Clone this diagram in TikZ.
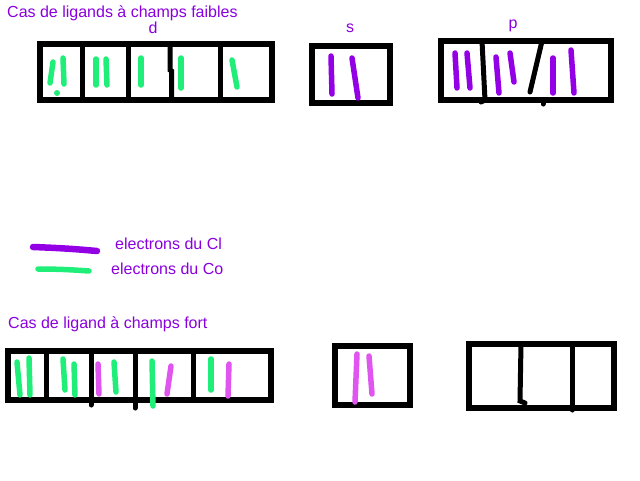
\documentclass[tikz,border=0pt]{standalone}
\usepackage{fontspec}
\setmainfont{Liberation Sans}
\definecolor{vio}{HTML}{9400E6}
\definecolor{vtext}{HTML}{8A00DD}
\definecolor{grn}{HTML}{1FEE78}
\definecolor{pnk}{HTML}{E055F0}
\tikzset{
  box/.style={draw=black, line width=6pt, line join=miter},
  wall/.style={draw=black, line width=5pt, line cap=round},
  ecl/.style={draw=vio, line width=5.5pt, line cap=round},
  eco/.style={draw=grn, line width=5.5pt, line cap=round},
  epk/.style={draw=pnk, line width=5.5pt, line cap=round},
  lbl/.style={text=vtext, font=\fontsize{16}{18}\selectfont, inner sep=0pt},
}
\begin{document}
\begin{tikzpicture}[x=1pt,y=-1pt]
\useasboundingbox (0,0) rectangle (640,480);
% titles
\node[lbl, anchor=base west] (t1) at (7,17) {Cas de ligands à champs faibles};
\node[lbl, anchor=base] (ld) at (153,33) {d};
\node[lbl, anchor=base] (ls) at (350,32) {s};
\node[lbl, anchor=base] (lp) at (513,28) {p};
% top d box
\draw[box] (40,44) rectangle (272,100);
\draw[wall] (82,44) -- (82,100);
\draw[wall] (128,44) -- (128,100);
\draw[wall] (170,44) -- (170,70) -- (171.5,71) -- (171.5,100);
\draw[wall] (220,44) -- (220,100);
\draw[eco] (53,62) -- (50,83);
\draw[eco] (63,58) -- (64,84);
\fill[grn] (57,93) circle (3pt);
\draw[eco] (96,59) -- (96,85);
\draw[eco] (106,59) -- (107,85);
\draw[eco] (141,58) -- (141,85);
\draw[eco] (181,58) -- (181,88);
\draw[eco] (232,60) -- (237,87);
% top s box
\draw[box] (312,46) rectangle (390,103);
\draw[ecl] (331,56) -- (332,94);
\draw[ecl] (352,58) -- (358,98);
% top p box
\draw[box] (441,41) rectangle (611,100);
\draw[wall] (482,41) -- (485,100);
\draw[wall] (485,100) -- (481,102);
\draw[wall] (542,41) -- (530,92);
\draw[wall] (543,100) -- (543,104);
\draw[ecl] (455,53) -- (457,88);
\draw[ecl] (467,53) -- (470,88);
\draw[ecl] (496,57) -- (499,93);
\draw[ecl] (510,53) -- (514,82);
\draw[ecl] (553,58) -- (553,93);
\draw[ecl] (571,50) -- (574,93);
% legend
\draw[ecl, line width=6.5pt] (33,247) .. controls (60,248) and (75,249) .. (97,251);
\draw[eco] (38,269) .. controls (60,269) and (75,270) .. (89,271);
\node[lbl, anchor=base west] (lcl) at (115,249) {electrons du Cl};
\node[lbl, anchor=base west] (lco) at (111,274) {electrons du Co};
% strong field
\node[lbl, anchor=base west] (t2) at (8,328) {Cas de ligand à champs fort};
\draw[box] (8,351) rectangle (271,400);
\draw[wall] (46,351) -- (46,400);
\draw[wall] (91,351) -- (91,405);
\draw[wall] (135,351) -- (135,408);
\draw[wall] (193,351) -- (193,400);
\draw[eco] (17,362) -- (20,395);
\draw[eco] (29,358) -- (30,395);
\draw[eco] (63,359) -- (65,390);
\draw[eco] (74,364) -- (75,395);
\draw[epk] (98,364) -- (99,394);
\draw[eco] (114,362) -- (116,392);
\draw[eco] (152,361) -- (153,406);
\draw[epk] (171,366) -- (167,394);
\draw[eco] (211,359) -- (211,390);
\draw[epk] (229,364) -- (228,396);
% strong s box
\draw[box] (335,346) rectangle (410,405);
\draw[epk] (357,354) -- (355,402);
\draw[epk] (369,356) -- (372,394);
% strong p box
\draw[box] (469,344) rectangle (614,408);
\draw[wall] (521,344) -- (520,401) -- (525,403);
\draw[wall] (572,344) -- (572,410);
\end{tikzpicture}
\end{document}
